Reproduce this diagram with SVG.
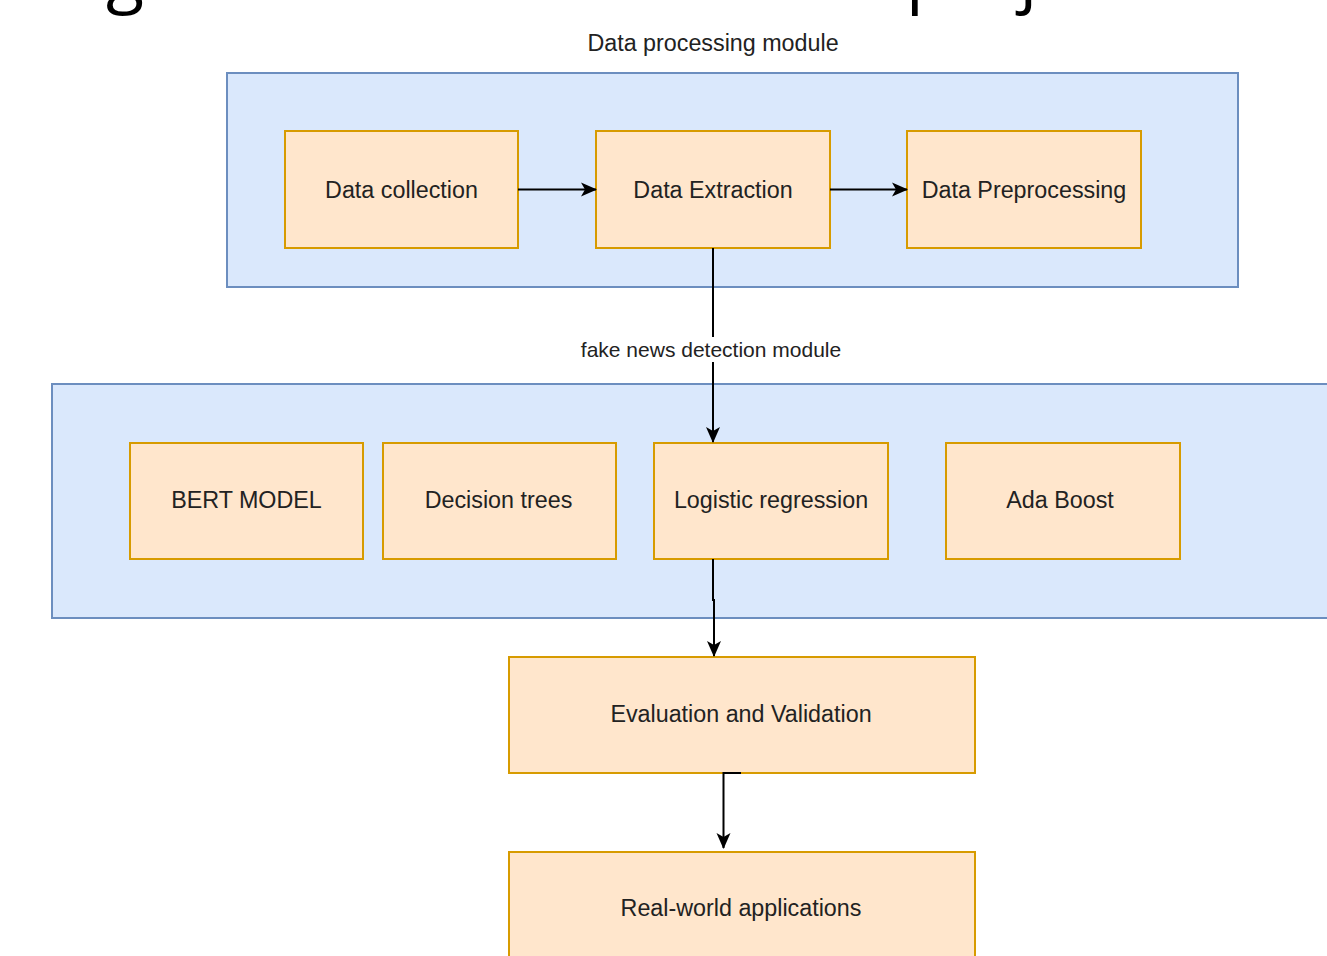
<svg xmlns="http://www.w3.org/2000/svg" width="1327" height="956" viewBox="0 0 1327 956">
<defs>
<style>
.cont{fill:#dae8fc;stroke:#6c8ebf;stroke-width:2}
.box{fill:#ffe6cc;stroke:#d79b00;stroke-width:2}
.lbl{font-family:"Liberation Sans",Arial,sans-serif;font-size:23.3px;fill:#222;text-anchor:middle;dominant-baseline:central}
.sm{font-family:"Liberation Sans",Arial,sans-serif;font-size:23.3px;fill:#222;text-anchor:middle;dominant-baseline:central}
.edge{fill:none;stroke:#000;stroke-width:2}
</style>
<marker id="arr" viewBox="0 0 16 16" refX="15" refY="8" markerWidth="16" markerHeight="16" markerUnits="userSpaceOnUse" orient="auto">
<path d="M0,1 L16,8 L0,15 L4,8 Z" fill="#000"/>
</marker>
</defs>
<rect width="1327" height="956" fill="#fff"/>
<text x="1135" y="-1" font-family="'Open Sans','Noto Sans',sans-serif" font-size="70" text-anchor="end" fill="#000">According to the workflow of our project</text>
<g id="data-processing-module">
<rect class="cont" x="227" y="73" width="1011" height="214"/>
<text class="sm" x="713" y="43">Data processing module</text>
</g>
<g id="fake-news-detection-module">
<rect class="cont" x="52" y="384" width="1290" height="234"/>
</g>
<g id="data-collection"><rect class="box" x="285" y="131" width="233" height="117"/><text class="lbl" x="401.5" y="189.5">Data collection</text></g>
<g id="data-extraction"><rect class="box" x="596" y="131" width="234" height="117"/><text class="lbl" x="713" y="189.5">Data Extraction</text></g>
<g id="data-preprocessing"><rect class="box" x="907" y="131" width="234" height="117"/><text class="lbl" x="1024" y="189.5">Data Preprocessing</text></g>
<g id="bert-model"><rect class="box" x="130" y="443" width="233" height="116"/><text class="lbl" x="246.5" y="500">BERT MODEL</text></g>
<g id="decision-trees"><rect class="box" x="383" y="443" width="233" height="116"/><text class="lbl" x="498.5" y="500">Decision trees</text></g>
<g id="logistic-regression"><rect class="box" x="654" y="443" width="234" height="116"/><text class="lbl" x="771" y="500">Logistic regression</text></g>
<g id="ada-boost"><rect class="box" x="946" y="443" width="234" height="116"/><text class="lbl" x="1060" y="500">Ada Boost</text></g>
<g id="evaluation"><rect class="box" x="509" y="657" width="466" height="116"/><text class="lbl" x="741" y="714">Evaluation and Validation</text></g>
<g id="real-world"><rect class="box" x="509" y="852" width="466" height="120"/><text class="lbl" x="741" y="908">Real-world applications</text></g>
<g id="connectors">
<path class="edge" d="M518,189.5 H596" marker-end="url(#arr)"/>
<path class="edge" d="M830,189.5 H907" marker-end="url(#arr)"/>
<path class="edge" d="M713,248 V337"/>
<path class="edge" d="M713,362 V442" marker-end="url(#arr)"/>
<text class="sm" x="711" y="349" style="font-size:21px">fake news detection module</text>
<path class="edge" d="M713,559 V600 H714 V656" marker-end="url(#arr)"/>
<path class="edge" d="M741,773 H723.5 V848" marker-end="url(#arr)"/>
</g>
</svg>
